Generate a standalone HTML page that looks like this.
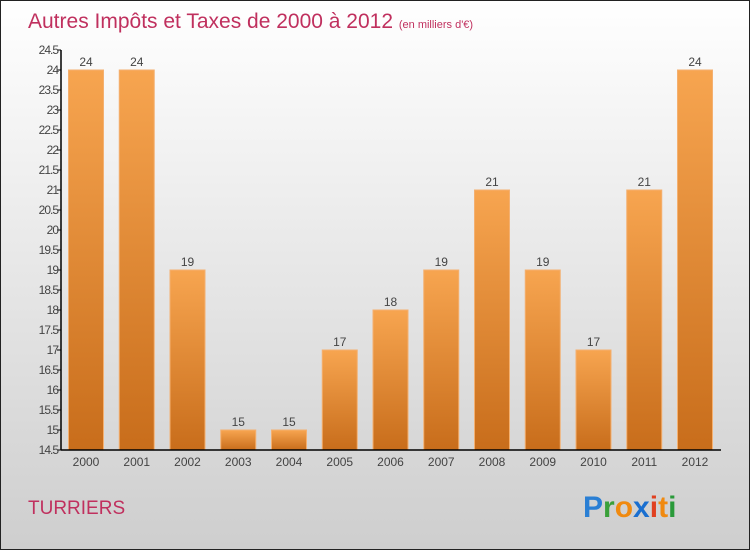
<!DOCTYPE html>
<html><head><meta charset="utf-8"><style>
body{margin:0}
#c{width:750px;height:550px;position:relative;font-family:"Liberation Sans",sans-serif}
</style></head><body>
<div id="c">
<svg id="s" width="750" height="550" xmlns="http://www.w3.org/2000/svg">
<defs>
<linearGradient id="bg" x1="0" y1="0" x2="0" y2="1"><stop offset="0" stop-color="#ffffff"/><stop offset="1" stop-color="#cecece"/></linearGradient>
<linearGradient id="bar" x1="0" y1="0" x2="0" y2="1"><stop offset="0" stop-color="#f7a550"/><stop offset="1" stop-color="#c86d1b"/></linearGradient>
</defs>
<rect x="0.5" y="0.5" width="749" height="549" fill="url(#bg)" stroke="#222"/>
<text x="28" y="28" font-size="21" fill="#c0305e">Autres Impôts et Taxes de 2000 à 2012 <tspan font-size="11">(en milliers d'€)</tspan></text>
<text x="28" y="514" font-size="19" fill="#c0305e">TURRIERS</text>
<g font-size="30" font-weight="bold" font-family="'Liberation Sans',sans-serif">
<text x="583" y="517"><tspan fill="#2a7fd4">P</tspan><tspan fill="#3aa03a">r</tspan><tspan fill="#f08a10">o</tspan><tspan fill="#1a6fd0">x</tspan><tspan fill="#e04020">i</tspan><tspan fill="#f08a10">t</tspan><tspan fill="#2a9a3a">i</tspan></text>
</g>
<g id="plot"></g>
</svg>
</div>
<script>
const categories=["2000","2001","2002","2003","2004","2005","2006","2007","2008","2009","2010","2011","2012"];
const values=[24,24,19,15,15,17,18,19,21,19,17,21,24];
const yTicks=["14.5","15","15.5","16","16.5","17","17.5","18","18.5","19","19.5","20","20.5","21","21.5","22","22.5","23","23.5","24","24.5"];
const yMin=14.5,yMax=24.5,top_=50,bot=450,x0=61,x1=721;
const y=v=>bot-(v-yMin)/(yMax-yMin)*(bot-top_);
const xc=i=>86+i*(695-86)/(categories.length-1);
const ns="http://www.w3.org/2000/svg",g=document.getElementById("plot");
function mk(t,a){const e=document.createElementNS(ns,t);for(const k in a)e.setAttribute(k,a[k]);g.appendChild(e);return e;}
values.forEach((v,i)=>{
 const r=mk("rect",{x:xc(i)-17.5,y:y(v),width:35,height:bot-y(v),fill:"url(#bar)",stroke:"#f4b070","stroke-width":1});
 
 
 const t=mk("text",{x:xc(i),y:y(v)-4,"font-size":12,fill:"#444","text-anchor":"middle"});t.textContent=v;
 
 
 const c=mk("text",{x:xc(i),y:bot+16,"font-size":12,fill:"#444","text-anchor":"middle"});c.textContent=categories[i];
 
 
});
yTicks.forEach(s=>{
 const v=parseFloat(s);
 const l=mk("line",{x1:x0-4,x2:x0,y1:y(v),y2:y(v),stroke:"#000"});
 
 
 const t=mk("text",{x:x0-3,y:y(v)+4,"font-size":12,fill:"#444","text-anchor":"end","letter-spacing":"-1"});t.textContent=s;
 
 
});
const ya=mk("line",{x1:x0,x2:x0,y1:top_,y2:bot,stroke:"#000","stroke-width":1.5});


const xa=mk("line",{x1:x0,x2:x1,y1:bot,y2:bot,stroke:"#000","stroke-width":1.5});


</script>
</body></html>
